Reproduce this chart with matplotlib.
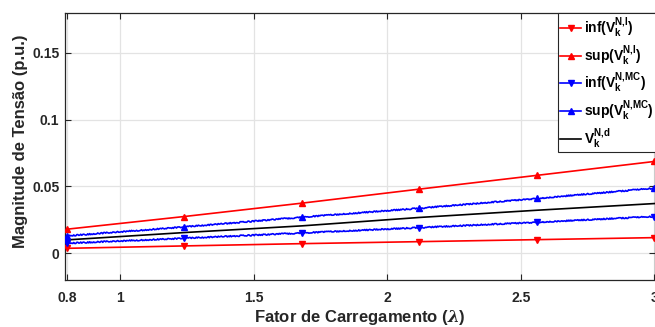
import matplotlib
matplotlib.use("Agg")
import matplotlib.pyplot as plt
from matplotlib.lines import Line2D

plt.rcParams['font.family'] = ['Liberation Sans', 'DejaVu Sans']
plt.rcParams['font.weight'] = 'bold'
plt.rcParams['mathtext.fontset'] = 'custom'
plt.rcParams['mathtext.rm'] = 'Liberation Sans:bold'
plt.rcParams['mathtext.bf'] = 'Liberation Sans:bold'
plt.rcParams['mathtext.it'] = 'DejaVu Serif:italic'

# Loading factor samples (markers) and voltage magnitude bounds
lam = [0.8, 1.24, 1.68, 2.12, 2.56, 3.0]
inf_interval = [0.0037, 0.0055, 0.0072, 0.0087, 0.0102, 0.0117]
sup_interval = [0.0180, 0.0275, 0.0375, 0.0480, 0.0583, 0.0687]
inf_mc = [0.0075, 0.0112, 0.0152, 0.0192, 0.0232, 0.0275]
sup_mc = [0.0130, 0.0197, 0.0270, 0.0337, 0.0410, 0.0487]
v_det = [0.0100, 0.0155, 0.0205, 0.0268, 0.0322, 0.0372]

xticks = [0.8, 1, 1.5, 2, 2.5, 3]
xticklabels = ['0.8', '1', '1.5', '2', '2.5', '3']
yticks = [0, 0.05, 0.1, 0.15]
yticklabels = ['0', '0.05', '0.1', '0.15']

labels = [r'inf($\mathrm{V}_\mathrm{k}^\mathrm{N{,}I}$)',
          r'sup($\mathrm{V}_\mathrm{k}^\mathrm{N{,}I}$)',
          r'inf($\mathrm{V}_\mathrm{k}^\mathrm{N{,}MC}$)',
          r'sup($\mathrm{V}_\mathrm{k}^\mathrm{N{,}MC}$)',
          r'$\mathrm{V}_\mathrm{k}^\mathrm{N{,}d}$']

RED = '#ff0000'
BLUE = '#0000ff'
AX = '#262626'

fig = plt.figure(figsize=(6.55, 3.27), dpi=100)
ax = fig.add_axes([65 / 655, 1 - 280 / 327, 589.5 / 655, 267.3 / 327])

lw = 1.2
ms = 5

ax.plot(lam, inf_interval, color=RED, lw=lw, marker='v', ms=ms, zorder=3)
ax.plot(lam, sup_interval, color=RED, lw=lw, marker='^', ms=ms, zorder=3)

# Monte Carlo bounds: jittery trace plus markers
for vals, mk in ((inf_mc, 'v'), (sup_mc, '^')):
    ln, = ax.plot(lam, vals, color=BLUE, lw=lw, zorder=3)
    ln.set_sketch_params(scale=0.6, length=1.5, randomness=3)
    ax.plot(lam, vals, color=BLUE, ls='none', marker=mk, ms=ms, zorder=4)

ax.plot(lam, v_det, color='black', lw=lw, zorder=3)

ax.set_xlim(0.7933, 3.0)
ax.set_ylim(-0.02, 0.18)
ax.set_xticks(xticks)
ax.set_xticklabels(xticklabels)
ax.set_yticks(yticks)
ax.set_yticklabels(yticklabels)

ax.grid(True, color='#e3e3e3', lw=0.9)
ax.set_axisbelow(True)
for s in ax.spines.values():
    s.set_color(AX)
    s.set_linewidth(0.9)
ax.tick_params(direction='in', top=True, right=True, length=4, width=0.8,
               color=AX, labelcolor=AX, labelsize=10)
ax.tick_params(axis='x', pad=8)
ax.tick_params(axis='y', pad=4)

ax.set_xlabel(r'Fator de Carregamento ($\lambda$)', fontsize=12, color=AX,
              fontweight='bold', labelpad=2)
ax.set_ylabel('Magnitude de Tensão (p.u.)', fontsize=12, color=AX,
              fontweight='bold')
ax.yaxis.set_label_coords(-0.0628, 0.52)

handles = [
    Line2D([], [], color=RED, lw=lw, marker='v', ms=ms),
    Line2D([], [], color=RED, lw=lw, marker='^', ms=ms),
    Line2D([], [], color=BLUE, lw=lw, marker='v', ms=ms),
    Line2D([], [], color=BLUE, lw=lw, marker='^', ms=ms),
    Line2D([], [], color='black', lw=lw),
]
leg = ax.legend(handles, labels, loc='upper left',
                bbox_to_anchor=((557.7 - 65) / 589.5, 1.0),
                borderaxespad=0, fancybox=False, framealpha=1,
                edgecolor=AX, prop={'size': 10, 'weight': 'bold'},
                handlelength=1.5, handletextpad=0.2, labelspacing=0.22,
                borderpad=0.2)
leg.get_frame().set_linewidth(0.8)

fig.savefig('out.png', dpi=100)
